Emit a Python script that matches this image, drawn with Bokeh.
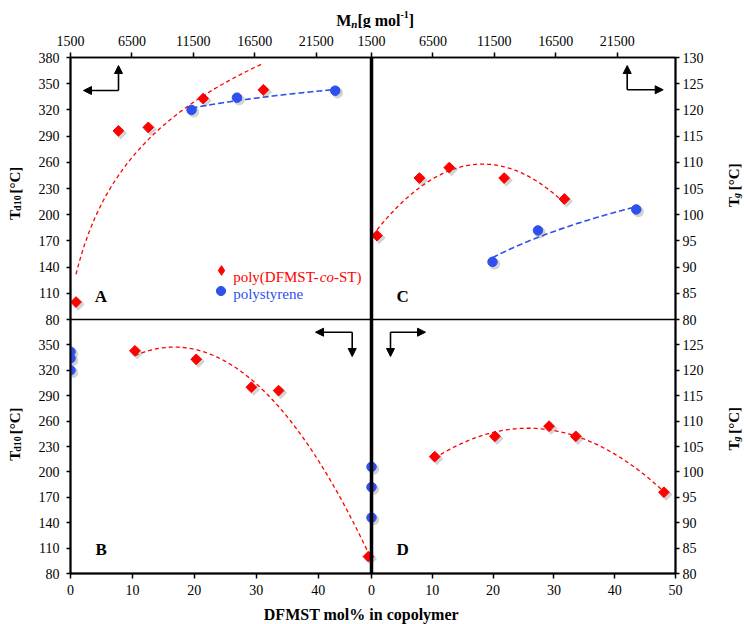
import numpy as np
from bokeh.plotting import figure
from bokeh.layouts import column, row
from bokeh.models import (Range1d, LinearAxis, FixedTicker, Span, Label, Arrow,
                          NormalHead, Legend, LegendItem, ColumnDataSource)
from bokeh.transform import dodge
from bokeh.embed import file_html
from bokeh.resources import INLINE

# ---------------- data ----------------
copoly_mol = [48.1, 33.6, 29.2, 20.3, 10.4]          # DFMST mol% in copolymer
copoly_mn = [1950, 5400, 7830, 12300, 17200]         # Mn [g/mol]
copoly_td10 = [100, 296, 300, 333, 343]              # Td10 [C]
copoly_tg = [96, 107, 109, 107, 103]                 # Tg [C]

ps_mol = [0, 0, 0]
ps_mn = [11350, 15050, 23050]
ps_td10 = [320, 334, 342]
ps_tg = [91, 97, 101]

mn_ticks = [1500, 6500, 11500, 16500, 21500]
td_ticks_top = [80, 110, 140, 170, 200, 230, 260, 290, 320, 350, 380]
td_ticks_bottom = [80, 110, 140, 170, 200, 230, 260, 290, 320, 350]
tg_ticks_top = [80, 85, 90, 95, 100, 105, 110, 115, 120, 125, 130]
tg_ticks_bottom = [80, 85, 90, 95, 100, 105, 110, 115, 120, 125]
mol_ticks_left = [0, 10, 20, 30, 40]
mol_ticks_right = [0, 10, 20, 30, 40, 50]

RED = "#ff0000"
BLUE = "#3050ee"
FONT = "Liberation Serif"

# ---------------- layout ----------------
TOTAL_W, TOTAL_H = 744, 624
HEAD_H, FOOT_H, SIDE_L, SIDE_R = 28, 24, 24, 24
MAIN_W = TOTAL_W - SIDE_L - SIDE_R
MAIN_H = TOTAL_H - HEAD_H - FOOT_H
FW, FH = 605, 516        # frame size
FRAME_X0, FRAME_Y1 = 70, 573   # frame left / bottom on the page
XS, YS = 301, 254        # split positions (px from left / bottom of frame)
MN_LO, MN_HI = 1500, 26000
MOL_B_HI, MOL_D_HI = 48.6, 50
TD_LO, TD_HI = 80, 380
TG_LO, TG_HI = 80, 130
MN_K = (MN_HI - MN_LO) / XS


def span_range(lo, hi, p0, p1, total):
    k = (hi - lo) / (p1 - p0)
    return Range1d(lo - p0 * k, lo + (total - p0) * k)


def to_px(v, lo, hi, p0, p1):
    return p0 + (v - lo) * (p1 - p0) / (hi - lo)


p = figure(width=MAIN_W, height=MAIN_H, x_range=Range1d(0, FW), y_range=Range1d(0, FH),
           output_backend="svg", toolbar_location=None,
           x_axis_location=None, y_axis_location=None,
           min_border_left=FRAME_X0 - SIDE_L, min_border_right=MAIN_W - (FRAME_X0 - SIDE_L) - FW,
           min_border_top=57 - HEAD_H, min_border_bottom=MAIN_H - (57 - HEAD_H) - FH)
p.grid.visible = False
p.outline_line_color = "black"
p.outline_line_width = 1.5
p.background_fill_color = "white"
p.border_fill_color = "white"

p.extra_x_ranges = {
    "mnA": span_range(MN_LO, MN_HI, 0, XS, FW),
    "mnC": span_range(MN_LO, MN_LO + (FW - XS) * MN_K, XS, FW, FW),
    "molB": span_range(0, MOL_B_HI, 0, XS, FW),
    "molD": span_range(0, MOL_D_HI, XS, FW, FW),
}
p.extra_y_ranges = {
    "tdA": span_range(TD_LO, TD_HI, YS, FH, FH),
    "tgC": span_range(TG_LO, TG_HI, YS, FH, FH),
    "tdB": span_range(TD_LO, TD_HI, 0, YS, FH),
    "tgD": span_range(TG_LO, TG_HI, 0, YS, FH),
}


def make_axis(ticks_px, labels, line_w, tick_out, standoff):
    ax = LinearAxis(ticker=FixedTicker(ticks=ticks_px, minor_ticks=[]),
                    major_label_overrides={t: l for t, l in zip(ticks_px, labels)})
    ax.axis_line_width = line_w
    ax.axis_line_color = "black"
    ax.major_tick_line_width = 1.5
    ax.major_tick_out = tick_out
    ax.major_tick_in = 0
    ax.minor_tick_out = 0
    ax.minor_tick_in = 0
    ax.major_label_text_font = FONT
    ax.major_label_text_font_size = "14px"
    ax.major_label_text_color = "black"
    ax.major_label_standoff = standoff
    return ax


# top axis: Mn for A (left) and C (right)
top_px = [to_px(v, MN_LO, MN_HI, 0, XS) for v in mn_ticks] + \
         [XS + to_px(v, MN_LO, MN_HI, 0, XS) for v in mn_ticks]
top_lab = [str(v) for v in mn_ticks] * 2
p.add_layout(make_axis(top_px, top_lab, 1.5, 5, 7), "above")

# bottom axis: mol% for B (left) and D (right)
bot_px = [to_px(v, 0, MOL_B_HI, 0, XS) for v in mol_ticks_left] + \
         [to_px(v, 0, MOL_D_HI, XS, FW) for v in mol_ticks_right]
bot_lab = [str(v) for v in mol_ticks_left] + [str(v) for v in mol_ticks_right]
p.add_layout(make_axis(bot_px, bot_lab, 2, 5, 6), "below")

# left axis: Td10 for A (top) and B (bottom)
left_px = [to_px(v, TD_LO, TD_HI, YS, FH) for v in td_ticks_top] + \
          [to_px(v, TD_LO, TD_HI, 0, YS) for v in td_ticks_bottom]
left_lab = [str(v) for v in td_ticks_top] + [str(v) for v in td_ticks_bottom]
p.add_layout(make_axis(left_px, left_lab, 2, 4, 7), "left")

# right axis: Tg for C (top) and D (bottom)
right_px = [to_px(v, TG_LO, TG_HI, YS, FH) for v in tg_ticks_top] + \
           [to_px(v, TG_LO, TG_HI, 0, YS) for v in tg_ticks_bottom]
right_lab = [str(v) for v in tg_ticks_top] + [str(v) for v in tg_ticks_bottom]
p.add_layout(make_axis(right_px, right_lab, 2, 4, 3), "right")

# panel dividers
p.add_layout(Span(location=XS, dimension="height", line_color="black", line_width=3.5))
p.add_layout(Span(location=YS, dimension="width", line_color="black", line_width=1.5))


# ---------------- trend lines ----------------
def trend_log(x, y, n=200):
    c = np.polyfit(np.log(x), y, 1)
    xs = np.linspace(min(x), max(x), n)
    return xs, np.polyval(c, np.log(xs))


def trend_poly2(x, y, n=200):
    c = np.polyfit(x, y, 2)
    xs = np.linspace(min(x), max(x), n)
    return xs, np.polyval(c, xs)


RED_DASH = dict(line_color=RED, line_dash="4 3", line_width=1.3)
BLUE_DASH = dict(line_color=BLUE, line_dash="6 3", line_width=1.6)

xs, ys = trend_log(copoly_mn, copoly_td10)
p.line(xs, ys, x_range_name="mnA", y_range_name="tdA", **RED_DASH)
xs, ys = trend_log(ps_mn, ps_td10)
p.line(xs, ys, x_range_name="mnA", y_range_name="tdA", **BLUE_DASH)
xs, ys = trend_poly2(copoly_mn, copoly_tg)
p.line(xs, ys, x_range_name="mnC", y_range_name="tgC", **RED_DASH)
xs, ys = trend_log(ps_mn, ps_tg)
p.line(xs, ys, x_range_name="mnC", y_range_name="tgC", **BLUE_DASH)
xs, ys = trend_poly2(copoly_mol, copoly_td10)
p.line(xs, ys, x_range_name="molB", y_range_name="tdB", **RED_DASH)
xs, ys = trend_poly2(copoly_mol, copoly_tg)
p.line(xs, ys, x_range_name="molD", y_range_name="tgD", **RED_DASH)


# ---------------- markers ----------------
def units_per_px(rng_name, axis):
    r = p.extra_x_ranges[rng_name] if axis == "x" else p.extra_y_ranges[rng_name]
    return (r.end - r.start) / (FW if axis == "x" else FH)


def points(x, y, xr, yr, kind):
    src = ColumnDataSource(dict(x=x, y=y))
    dx = 2.2 * units_per_px(xr, "x")
    dy = -2.2 * units_per_px(yr, "y")
    if kind == "d":
        sty = dict(marker="square", angle=np.pi / 4, size=7.6)
        col = RED
    else:
        sty = dict(marker="circle", size=9.5)
        col = BLUE
    shadow = dict(sty)
    shadow["size"] = sty["size"] + 1.5
    p.scatter(x=dodge("x", dx), y=dodge("y", dy), source=src, x_range_name=xr, y_range_name=yr,
              fill_color="#606060", line_color=None, fill_alpha=0.28, **shadow)
    return p.scatter(x="x", y="y", source=src, x_range_name=xr, y_range_name=yr,
                     fill_color=col, line_color=col, **sty)


rA_red = points(copoly_mn, copoly_td10, "mnA", "tdA", "d")
rA_blue = points(ps_mn, ps_td10, "mnA", "tdA", "c")
points(copoly_mn, copoly_tg, "mnC", "tgC", "d")
points(ps_mn, ps_tg, "mnC", "tgC", "c")
points(copoly_mol, copoly_td10, "molB", "tdB", "d")
points(ps_mol, ps_td10, "molB", "tdB", "c")
points(copoly_mol, copoly_tg, "molD", "tgD", "d")
points(ps_mol, ps_tg, "molD", "tgD", "c")

# legend keys: a (hidden) diamond renderer for the copolymer key, circles for polystyrene
key_red = p.scatter(copoly_mn, copoly_td10, x_range_name="mnA", y_range_name="tdA",
                    marker="diamond", size=11, color=RED, visible=False)


def key_legend(renderer, glyph, cx, cy):
    lg = Legend(items=[LegendItem(label=" ", renderers=[renderer])],
                location=(cx - glyph / 2, cy - glyph / 2), padding=0, margin=0, spacing=0,
                glyph_width=glyph, glyph_height=glyph, label_height=glyph, label_width=2,
                label_standoff=0, label_text_font_size="1px",
                border_line_color=None, background_fill_alpha=0, inactive_fill_alpha=0)
    p.add_layout(lg)


key_legend(key_red, 24, 220.7 - FRAME_X0, FRAME_Y1 - 270)
key_legend(rA_blue, 23, 220.7 - FRAME_X0, FRAME_Y1 - 290)

# ---------------- texts ----------------
W = {
    "R": {' ': 250, '(': 333, ')': 333, '-': 333, 'D': 722, 'F': 556, 'M': 889, 'S': 556, 'T': 611,
          'c': 444, 'e': 444, 'l': 278, 'n': 500, 'o': 500, 'p': 500, 'r': 333, 's': 389, 't': 278, 'y': 500},
    "I": {'c': 444, 'o': 500},
    "B": {' ': 250, '%': 1000, '-': 333, '0': 500, '1': 500, 'C': 722, 'D': 722, 'F': 611, 'M': 944,
          'S': 556, 'T': 667, '[': 333, ']': 333, '°': 400, 'c': 444, 'd': 556, 'e': 444, 'g': 500,
          'i': 278, 'l': 278, 'm': 833, 'n': 556, 'o': 500, 'p': 556, 'r': 444, 'y': 500},
    "BI": {'n': 556, 'g': 500},
}
STYLE = {"R": "normal", "I": "italic", "B": "bold", "BI": "bold italic"}


def tw(s, st, size):
    return sum(W[st].get(ch, 500) for ch in s) * size / 1000.0


def rich(fig, x, y, pieces, vertical=False, color="black"):
    """pieces: (text, style, size, baseline_shift_down); x, y in fig data px (y up)."""
    for text, st, size, shift in pieces:
        lead = len(text) - len(text.lstrip(" "))
        adv0 = tw(" " * lead, st, size)
        if vertical:
            y += adv0
        else:
            x += adv0
        t = text.strip(" ")
        if vertical:
            lx, ly, ang = x + shift, y, np.pi / 2
        else:
            lx, ly, ang = x, y - shift, 0
        fig.add_layout(Label(x=lx, y=ly, text=t, angle=ang, text_font=FONT,
                             text_font_size=f"{size}px", text_font_style=STYLE[st],
                             text_color=color, text_align="left", text_baseline="alphabetic"))
        adv = tw(t, st, size)
        if vertical:
            y += adv
        else:
            x += adv


def text_panel(w, h):
    f = figure(width=w, height=h, x_range=Range1d(0, w), y_range=Range1d(0, h),
               output_backend="svg", toolbar_location=None,
               x_axis_location=None, y_axis_location=None,
               min_border=0, min_border_left=0, min_border_right=0,
               min_border_top=0, min_border_bottom=0)
    f.grid.visible = False
    f.outline_line_color = None
    f.background_fill_color = "white"
    f.border_fill_color = "white"
    return f


head = text_panel(TOTAL_W, HEAD_H)
foot = text_panel(TOTAL_W, FOOT_H)
side_l = text_panel(SIDE_L, MAIN_H)
side_r = text_panel(SIDE_R, MAIN_H)

# top title  Mn[g mol-1]  (n subscript italic, -1 superscript)
rich(head, 335.7, HEAD_H - 20, [("M", "B", 16, 0), ("n", "BI", 11, 3), ("[g mol", "B", 16, 0),
                                ("-1", "B", 10, -6.5), ("]", "B", 16, 0)])
# bottom title
rich(foot, 263.3, TOTAL_H - 614, [("DFMST mol% in copolymer", "B", 16, 0)])

# side titles (vertical, reading upwards)
td_pieces = [("T", "B", 15, 0), ("d10", "B", 10, 3), (" [°C]", "B", 15, 0)]
tg_pieces = [("T", "B", 15, 0), ("g", "BI", 10, 2.5), (" [°C]", "B", 15, 0)]
L_td = sum(tw(t, s, z) for t, s, z, _ in td_pieces)
L_tg = sum(tw(t, s, z) for t, s, z, _ in tg_pieces)
SIDE_TOP = HEAD_H + MAIN_H          # page y of side panels' bottom edge
rich(side_l, 14, SIDE_TOP - 180 - L_td / 2, td_pieces, vertical=True)
rich(side_l, 14, SIDE_TOP - 447 - L_td / 2, td_pieces, vertical=True)
rich(side_r, 733 - (TOTAL_W - SIDE_R), SIDE_TOP - 171 - L_tg / 2, tg_pieces, vertical=True)
rich(side_r, 733 - (TOTAL_W - SIDE_R), SIDE_TOP - 441 - L_tg / 2, tg_pieces, vertical=True)

# legend texts (in frame px)
rich(p, 232.7 - FRAME_X0, FRAME_Y1 - 276.7,
     [("poly(DFMST-", "R", 15, 0), ("co", "I", 15, 0), ("-ST)", "R", 15, 0)], color=RED)
rich(p, 232.7 - FRAME_X0, FRAME_Y1 - 293.5, [("polystyrene", "R", 15, 0)], color=BLUE)

# panel letters
for txt, lx, ly in [("A", 24.3, 268), ("C", 326, 268), ("B", 25, 14.7), ("D", 326, 14.7)]:
    p.add_layout(Label(x=lx, y=ly, text=txt, text_font=FONT, text_font_size="17px",
                       text_font_style="bold", text_color="black"))


# axis-direction arrows (panel corners)
def corner_arrows(cx, cy, hx, vy):
    for ex, ey in [(hx, cy), (cx, vy)]:
        p.add_layout(Arrow(x_start=cx, y_start=cy, x_end=ex, y_end=ey, line_width=1.6,
                           line_color="black",
                           end=NormalHead(size=8, fill_color="black", line_color="black")))


corner_arrows(48, 483, 13, 508)          # A: left & up
corner_arrows(556.7, 483.7, 592.7, 508)  # C: right & up
corner_arrows(281.7, 241.3, 245, 217)    # B: left & down
corner_arrows(320, 241.3, 355, 217)      # D: right & down

layout = column(head, row(side_l, p, side_r), foot)
open("out.html", "w").write(file_html(layout, INLINE))
